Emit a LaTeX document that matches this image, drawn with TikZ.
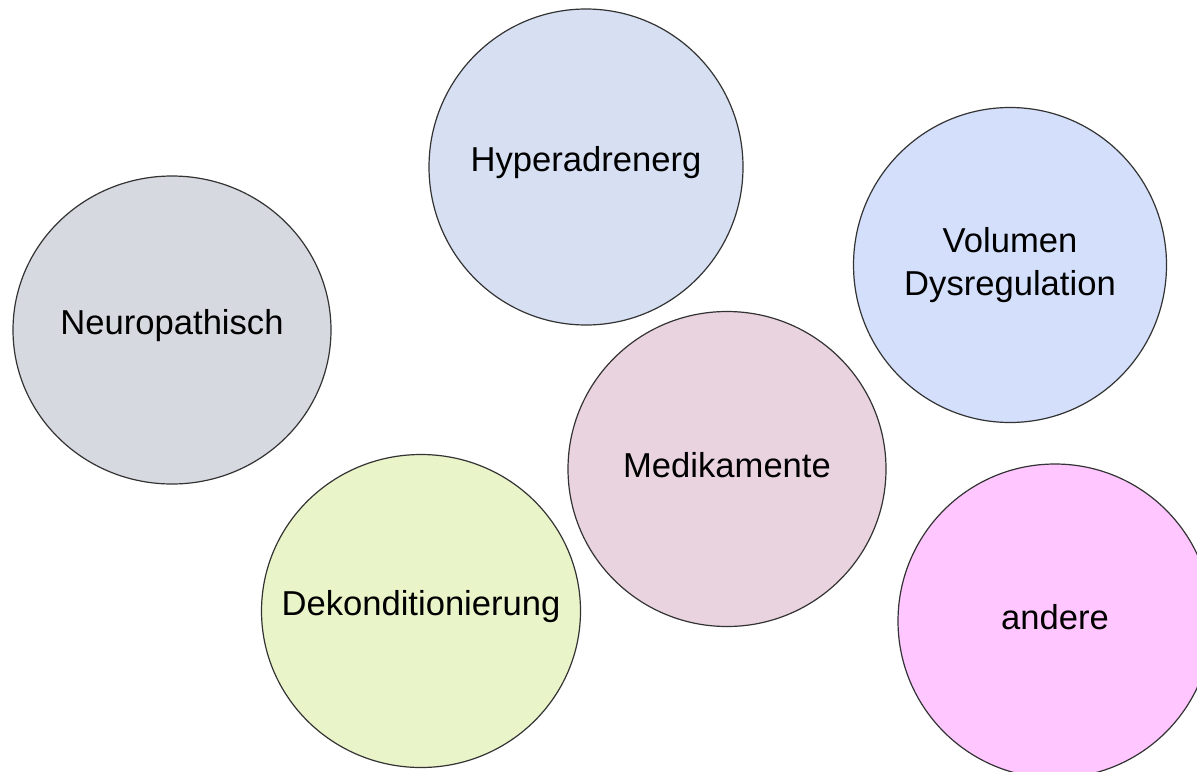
\documentclass[tikz,border=0pt]{standalone}
\usepackage{fontspec}
\setmainfont{Liberation Sans}
\usetikzlibrary{shapes.geometric}

\definecolor{neurogray}{HTML}{D6D9DF}
\definecolor{hyperblue}{HTML}{D6E0F2}
\definecolor{volblue}{HTML}{D3DFFB}
\definecolor{medrose}{HTML}{E9D3DF}
\definecolor{dekogreen}{HTML}{E9F4C9}
\definecolor{anderepink}{HTML}{FFC6FF}

\begin{document}
\begin{tikzpicture}[x=0.5pt, y=-0.5pt,
		bubble/.style={ellipse, draw=black!80, line width=0.6pt, inner sep=0pt},
		bubbletext/.style={align=center, font=\fontsize{17.3pt}{21.5pt}\selectfont}]
			\path[use as bounding box, clip] (0,0) rectangle (1197,771);
			\fill[white] (0,0) rectangle (1197,771);
			\node[bubble, fill=neurogray, minimum width=159pt, minimum height=154pt] (N) at (172,330) {};
			\node[bubble, fill=hyperblue, minimum width=157pt, minimum height=158pt] (H) at (586,167) {};
			\node[bubble, fill=volblue, minimum width=156.5pt, minimum height=157.5pt] (V) at (1010,265) {};
			\node[bubble, fill=medrose, minimum width=159pt, minimum height=157.5pt] (M) at (727,469) {};
			\node[bubble, fill=dekogreen, minimum width=159.5pt, minimum height=156.5pt] (D) at (421,611) {};
			\node[bubble, fill=anderepink, minimum width=157pt, minimum height=157pt] (A) at (1055,621) {};
			% Beschriftungen
			\node[bubbletext, yshift=2pt] (Ntext) at (N) {Neuropathisch};
			\node[bubbletext, yshift=2pt] (Htext) at (H) {Hyperadrenerg};
			\node[bubbletext] (Vtext) at (V) {Volumen\\Dysregulation};
			\node[bubbletext, yshift=2pt] (Mtext) at (M) {Medikamente};
			\node[bubbletext, yshift=2pt] (Dtext) at (D) {Dekonditionierung};
			\node[bubbletext, yshift=2pt] (Atext) at (A) {andere};
		\end{tikzpicture}
\end{document}
